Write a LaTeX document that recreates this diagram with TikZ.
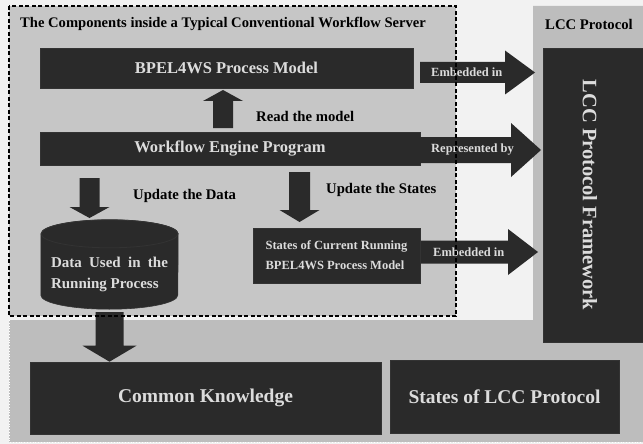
\documentclass[tikz,border=0pt]{standalone}
\usepackage{fontspec}
\setmainfont{Liberation Serif}
\usetikzlibrary{calc}

\definecolor{pagebg}{HTML}{F2F2F2}
\definecolor{serverbg}{HTML}{C6C6C6}
\definecolor{lccbg}{HTML}{BDBDBD}
\definecolor{boxfill}{HTML}{2A2A2A}
\definecolor{boxtext}{HTML}{DCDCDC}

\tikzset{
  darkbox/.style={fill=boxfill, draw=black!80, line width=0.6pt, inner sep=0pt},
  boxlabel/.style={text=boxtext, font=\bfseries\fontsize{16.5}{18}\selectfont},
  biglabel/.style={text=boxtext, font=\bfseries\fontsize{19.5}{22}\selectfont},
  plainlabel/.style={text=black, font=\bfseries\fontsize{14.7}{16}\selectfont, anchor=west, inner sep=0pt},
  arrowlabel/.style={text=boxtext, font=\bfseries\fontsize{12.5}{14}\selectfont, anchor=west, inner sep=0pt},
  blockfill/.style={fill=boxfill},
  frame/.style={draw=black, line width=1.8pt, dash pattern=on 4pt off 2.5pt},
}

% block arrow: from, to, shaft half width, head half width, head length
\newcommand\blockarrow[6][]{%
  \coordinate (ba-base) at ($(#3)!#6!(#2)$);
  \fill[blockfill,#1] ($(#2)!#4!90:(#3)$) -- ($(ba-base)!#4!90:(#3)$)
    -- ($(ba-base)!#5!90:(#3)$) -- (#3) -- ($(ba-base)!#5!-90:(#3)$)
    -- ($(ba-base)!#4!-90:(#3)$) -- ($(#2)!#4!-90:(#3)$) -- cycle;
}

\begin{document}
\begin{tikzpicture}[x=1pt,y=1pt]
  \useasboundingbox (0,0) rectangle (643,-444);
  \fill[pagebg] (0,0) rectangle (643,-444);

  % LCC protocol region (L-shaped)
  \fill[lccbg] (533,-6) -- (643,-6) -- (643,-442) -- (9,-442) -- (9,-320)
    -- (533,-320) -- cycle;
  \draw[white, line width=0.8pt, dotted] (9,-320) -- (9,-442) -- (643,-442);

  % workflow server region
  \node[fill=serverbg, minimum width=447pt, minimum height=310pt, inner sep=0pt]
    (server) at (232.5,-161) {};

  \node[plainlabel, font=\bfseries\fontsize{14.6}{16}\selectfont] (title) at (20,-24)
    {The Components inside a Typical Conventional Workflow Server};
  \node[plainlabel] (lcctitle) at (545,-24) {LCC Protocol};

  % boxes
  \node[darkbox, boxlabel, minimum width=373pt, minimum height=40pt] (bpel)
    at (226.5,-68) {BPEL4WS Process Model};
  \node[darkbox, boxlabel, minimum width=380pt, minimum height=33pt] (engine)
    at (230,-148.5) {Workflow Engine Program};
  \node[darkbox, text=boxtext, font=\bfseries\fontsize{12.5}{20}\selectfont,
        align=left, minimum width=167pt, minimum height=55pt] (states)
    at (336.5,-255.5) {States of Current Running\\BPEL4WS Process Model};
  \node[darkbox, minimum width=100pt, minimum height=294pt] (lccfw) at (593,-195) {};
  \node[biglabel, rotate=-90, font=\bfseries\fontsize{20.5}{22}\selectfont]
    (lccfwlabel) at (590,-195) {LCC Protocol Framework};
  \node[darkbox, biglabel, minimum width=351pt, minimum height=72pt] (common)
    at (205.5,-398) {Common Knowledge};
  \node[darkbox, biglabel, minimum width=229pt, minimum height=73pt] (lccstates)
    at (504.5,-396.5) {States of LCC Protocol};

  % data store cylinder
  \node[minimum width=137pt, minimum height=89pt, inner sep=0pt] (data)
    at (109.5,-264.5) {};
  \fill[boxfill, draw=black!80, line width=0.6pt]
    ($(data.north west)+(0,-14)$) -- ($(data.south west)+(0,14)$)
    arc[start angle=180, end angle=360, x radius=68.5, y radius=14]
    -- ($(data.north east)+(0,-14)$)
    arc[start angle=0, end angle=180, x radius=68.5, y radius=14] -- cycle;
  \draw[black!80, line width=0.8pt] ($(data.north)+(0,-14)$)
    ellipse[x radius=68.5, y radius=14];
  \node[text=boxtext, font=\bfseries\fontsize{15}{21}\selectfont, align=left,
        inner sep=0pt] (datalabel) at (109.5,-274)
    {\makebox[117pt][s]{Data Used in the}\\Running Process};

  % block arrows inside the server
  \coordinate (readS) at (223,-128);
  \coordinate (readE) at (223,-90);
  \blockarrow{readS}{readE}{10pt}{20pt}{11pt}
  \node[plainlabel] (readlabel) at (256,-116) {Read the model};

  \coordinate (updDS) at (89.5,-178);
  \coordinate (updDE) at (89.5,-218);
  \blockarrow{updDS}{updDE}{10pt}{20pt}{11pt}
  \node[plainlabel] (updDlabel) at (133,-196) {Update the Data};

  \coordinate (updSS) at (299.5,-172);
  \coordinate (updSE) at (299.5,-222);
  \blockarrow{updSS}{updSE}{10.5pt}{20pt}{12pt}
  \node[plainlabel] (updSlabel) at (326,-190) {Update the States};

  % from the data store down to the common knowledge
  \coordinate (kS) at ($(data.south)+(0,-3)$);
  \coordinate (kE) at (kS |- common.north);
  \blockarrow{kS}{kE}{14pt}{27pt}{16pt}

  % arrows towards the LCC protocol framework
  \coordinate (e1S) at (420,-72.5);
  \coordinate (e1E) at (535,-72.5);
  \blockarrow{e1S}{e1E}{10.5pt}{22pt}{30pt}
  \node[arrowlabel] at (431,-72.5) {Embedded in};

  \coordinate (r1S) at (420,-150);
  \coordinate (r1E) at (541,-150);
  \blockarrow{r1S}{r1E}{13pt}{27pt}{30pt}
  \node[arrowlabel] at (431,-150) {Represented by};

  \coordinate (e2S) at (421,-252);
  \coordinate (e2E) at (538,-252);
  \blockarrow{e2S}{e2E}{11.5pt}{23pt}{30pt}
  \node[arrowlabel] at (433,-252) {Embedded in};

  % dashed frame of the server drawn last
  \draw[frame] (server.north west) rectangle (server.south east);
\end{tikzpicture}
\end{document}
